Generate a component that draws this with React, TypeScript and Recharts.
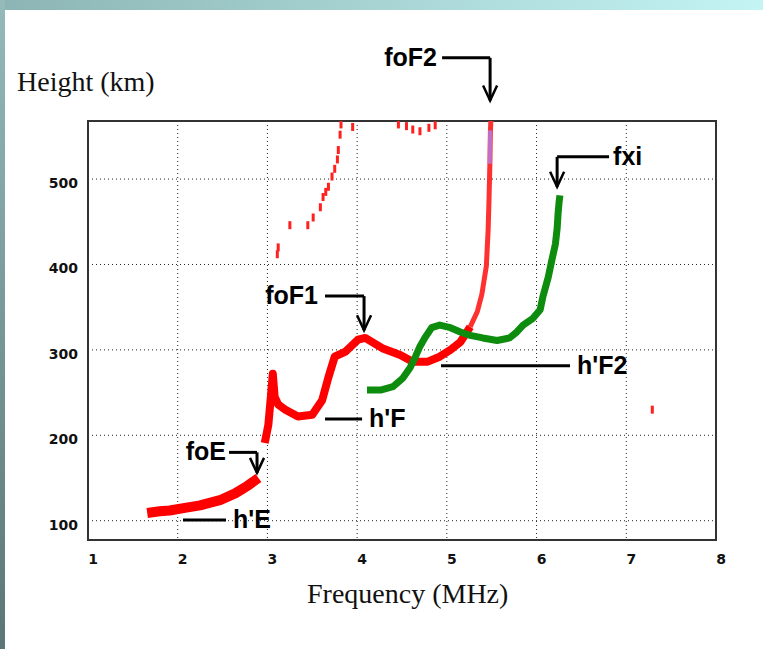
import React from 'react';
import {
  ComposedChart, Line, Scatter, XAxis, YAxis, CartesianGrid,
  ReferenceLine, ReferenceDot, ReferenceArea,
} from 'recharts';

// ordinary trace (red): frequency (MHz) / virtual height (km)
const eTrace = [
  { f: 1.66, h: 109 }, { f: 1.8, h: 111 }, { f: 1.91, h: 112 }, { f: 2.08, h: 115 },
  { f: 2.25, h: 118 }, { f: 2.47, h: 124 }, { f: 2.64, h: 132 }, { f: 2.78, h: 141 },
  { f: 2.9, h: 150 },
];
const fTrace = [
  { f: 2.97, h: 191 }, { f: 3.01, h: 212 }, { f: 3.04, h: 247 }, { f: 3.06, h: 272 },
  { f: 3.08, h: 245 }, { f: 3.12, h: 236 }, { f: 3.2, h: 230 }, { f: 3.34, h: 222 },
  { f: 3.5, h: 224 }, { f: 3.61, h: 241 }, { f: 3.68, h: 268 }, { f: 3.75, h: 292 },
  { f: 3.87, h: 298 }, { f: 4.01, h: 312 }, { f: 4.09, h: 314 }, { f: 4.28, h: 302 },
  { f: 4.48, h: 294 }, { f: 4.62, h: 286 }, { f: 4.78, h: 286 }, { f: 4.92, h: 292 },
  { f: 5.04, h: 300 }, { f: 5.15, h: 309 }, { f: 5.26, h: 327 },
];
const f2Cusp = [
  { f: 5.26, h: 327 }, { f: 5.34, h: 345 }, { f: 5.39, h: 365 }, { f: 5.44, h: 398 },
  { f: 5.46, h: 440 }, { f: 5.47, h: 476 }, { f: 5.48, h: 520 }, { f: 5.485, h: 554 },
  { f: 5.49, h: 568 },
];
const cuspOverlap = [{ f: 5.478, h: 518 }, { f: 5.482, h: 557 }];
// second hop / scattered echoes
const redSpecks = [
  { f: 3.11, h: 412 }, { f: 3.12, h: 420 }, { f: 3.25, h: 446 }, { f: 3.45, h: 446 },
  { f: 3.51, h: 455 }, { f: 3.59, h: 467 }, { f: 3.62, h: 479 }, { f: 3.65, h: 485 },
  { f: 3.68, h: 491 }, { f: 3.72, h: 503 }, { f: 3.75, h: 512 }, { f: 3.78, h: 523 },
  { f: 3.79, h: 534 }, { f: 3.81, h: 552 }, { f: 3.82, h: 564 }, { f: 3.95, h: 561 },
  { f: 4.46, h: 564 }, { f: 4.55, h: 562 }, { f: 4.62, h: 558 }, { f: 4.7, h: 556 },
  { f: 4.8, h: 560 }, { f: 4.87, h: 563 }, { f: 7.29, h: 230 },
];
// extraordinary trace (green)
const xTrace = [
  { f: 4.11, h: 253 }, { f: 4.26, h: 253 }, { f: 4.4, h: 257 }, { f: 4.51, h: 267 },
  { f: 4.59, h: 279 }, { f: 4.65, h: 292 }, { f: 4.7, h: 304 }, { f: 4.76, h: 315 },
  { f: 4.83, h: 326 }, { f: 4.92, h: 329 }, { f: 5.04, h: 326 }, { f: 5.15, h: 321 },
  { f: 5.26, h: 317 }, { f: 5.4, h: 314 }, { f: 5.56, h: 311 }, { f: 5.7, h: 314 },
  { f: 5.78, h: 321 }, { f: 5.85, h: 329 }, { f: 5.96, h: 337 }, { f: 6.04, h: 347 },
  { f: 6.07, h: 362 }, { f: 6.13, h: 385 }, { f: 6.17, h: 405 }, { f: 6.21, h: 424 },
  { f: 6.23, h: 443 }, { f: 6.24, h: 460 }, { f: 6.25, h: 472 }, { f: 6.26, h: 481 },
];

const freqTicks = [1, 2, 3, 4, 5, 6, 7, 8];
const heightTicks = [100, 200, 300, 400, 500];

// annotation leaders: polyline in data units, label, arrow tip
const arrowNotes = [
  { label: 'foF2', at: { f: 4.89, h: 642 }, path: [{ f: 4.947, h: 642 }, { f: 5.482, h: 642 }, { f: 5.482, h: 592 }], anchor: 'end' },
  { label: 'fxi', at: { f: 6.853, h: 526 }, path: [{ f: 6.808, h: 526 }, { f: 6.229, h: 526 }, { f: 6.229, h: 491 }], anchor: 'start' },
  { label: 'foF1', at: { f: 3.564, h: 363 }, path: [{ f: 3.642, h: 363 }, { f: 4.077, h: 363 }, { f: 4.077, h: 323 }], anchor: 'end' },
  { label: 'foE', at: { f: 2.538, h: 180 }, path: [{ f: 2.572, h: 180 }, { f: 2.884, h: 180 }, { f: 2.884, h: 156 }], anchor: 'end' },
];
const lineNotes = [
  { label: "h'F2", from: { f: 4.935, h: 281.3 }, to: { f: 6.373, h: 281.3 } },
  { label: "h'F", from: { f: 3.642, h: 219.2 }, to: { f: 4.055, h: 219.2 } },
  { label: "h'E", from: { f: 2.059, h: 100.8 }, to: { f: 2.538, h: 100.8 } },
];

const noteFont = "'Liberation Sans', Arial, sans-serif";
const tickFont = "'DejaVu Sans', Verdana, sans-serif";

const Speck = (props: any) => (
  <rect x={props.cx - 1.5} y={props.cy - 4} width={3} height={8} fill="#ff2020" />
);

const FreqTick = (props: any) => (
  <text x={props.x + 5} y={props.y + 16} textAnchor="middle" fontSize={14} fontWeight={700} fontFamily={tickFont} fill="#111">
    {props.payload.value}
  </text>
);

const HeightTick = (props: any) => (
  <text x={props.x - 2} y={props.y + 9} textAnchor="end" fontSize={14} fontWeight={700} fontFamily={tickFont} fill="#111">
    {props.payload.value}
  </text>
);

export default function App() {
  return (
    <div style={{ position: 'fixed', left: 0, top: 0, width: 763, height: 649, background: '#fff', overflow: 'hidden' }}>
      <div style={{ position: 'absolute', left: 0, top: 0, width: 763, height: 10, background: 'linear-gradient(to right, #8cb4b4, #c4f4f4)' }} />
      <div style={{ position: 'absolute', left: 0, top: 0, width: 5, height: 649, background: 'linear-gradient(to bottom, #94baba, #5c7676)' }} />
      <div style={{ position: 'absolute', left: 17, top: 66, fontFamily: "'Liberation Serif', 'Times New Roman', serif", fontSize: 28, color: '#111', lineHeight: '32px' }}>
        Height (km)
      </div>
      <div style={{ position: 'absolute', left: 307, top: 578, fontFamily: "'Liberation Serif', 'Times New Roman', serif", fontSize: 28, color: '#111', lineHeight: '32px' }}>
        Frequency (MHz)
      </div>
      <div style={{ position: 'absolute', left: 0, top: 0 }}>
        <ComposedChart width={763} height={649} margin={{ top: 121, right: 47, bottom: 79, left: 28 }}>
          <CartesianGrid stroke="#222" strokeDasharray="1 3" verticalValues={[2, 3, 4, 5, 6, 7]} horizontalValues={heightTicks} />
          <XAxis
            type="number" dataKey="f" domain={[1, 8]} ticks={freqTicks} height={30}
            axisLine={false} tickLine={false} tick={FreqTick}
          />
          <YAxis
            type="number" dataKey="h" domain={[77.4, 568]} ticks={heightTicks} width={60} allowDataOverflow
            axisLine={false} tickLine={false} tick={HeightTick}
          />
          <ReferenceArea x1={1} x2={8} y1={77.4} y2={568} fill="none" stroke="#333" strokeWidth={2} ifOverflow="visible" />

          <Line data={eTrace} dataKey="h" stroke="#ff0000" strokeWidth={10} dot={false} isAnimationActive={false} strokeLinejoin="round" />
          <Line data={fTrace} dataKey="h" stroke="#ff0000" strokeWidth={8} dot={false} isAnimationActive={false} strokeLinejoin="round" />
          <Line data={f2Cusp} dataKey="h" stroke="#ff3030" strokeWidth={5} dot={false} isAnimationActive={false} strokeLinejoin="round" />
          <Line data={cuspOverlap} dataKey="h" stroke="#c070c8" strokeWidth={4} dot={false} isAnimationActive={false} />
          <Line data={xTrace} dataKey="h" stroke="#0e8c0e" strokeWidth={7} dot={false} isAnimationActive={false} strokeLinejoin="round" />
          <Scatter data={redSpecks} dataKey="h" shape={Speck} isAnimationActive={false} />

          {arrowNotes.map((n) => (
            <React.Fragment key={n.label}>
              {n.path.slice(1).map((p, i) => (
                <ReferenceLine
                  key={`${n.label}-${i}`}
                  segment={[{ x: n.path[i].f, y: n.path[i].h }, { x: p.f, y: p.h }]}
                  stroke="#000" strokeWidth={3} ifOverflow="visible"
                />
              ))}
              <ReferenceDot
                x={n.path[2].f} y={n.path[2].h} r={0} ifOverflow="visible"
                shape={(p: any) => (
                  <path d={`M${p.cx - 7},${p.cy - 15} L${p.cx},${p.cy} L${p.cx + 7},${p.cy - 15}`} stroke="#000" strokeWidth={2.5} fill="none" />
                )}
              />
              <ReferenceDot
                x={n.at.f} y={n.at.h} r={0} ifOverflow="visible"
                shape={(p: any) => (
                  <text x={p.cx} y={p.cy} dy={8} textAnchor={n.anchor} fontFamily={noteFont} fontWeight={700} fontSize={25} fill="#000">{n.label}</text>
                )}
              />
            </React.Fragment>
          ))}
          {lineNotes.map((n) => (
            <React.Fragment key={n.label}>
              <ReferenceLine
                segment={[{ x: n.from.f, y: n.from.h }, { x: n.to.f, y: n.to.h }]}
                stroke="#000" strokeWidth={3} ifOverflow="visible"
              />
              <ReferenceDot
                x={n.to.f} y={n.to.h} r={0} ifOverflow="visible"
                shape={(p: any) => (
                  <text x={p.cx + 7} y={p.cy} dy={8} textAnchor="start" fontFamily={noteFont} fontWeight={700} fontSize={25} fill="#000">{n.label}</text>
                )}
              />
            </React.Fragment>
          ))}
        </ComposedChart>
      </div>
    </div>
  );
}
